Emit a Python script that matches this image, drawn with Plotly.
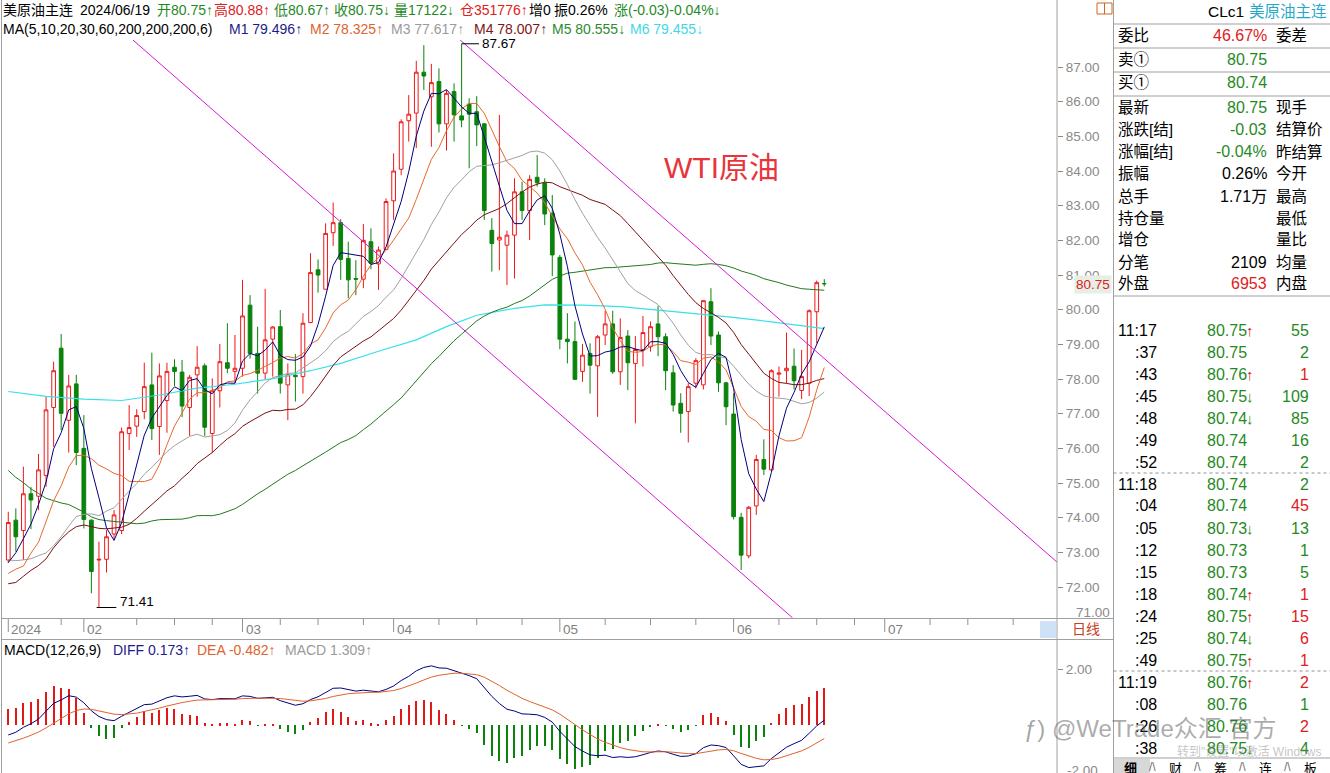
import plotly.graph_objects as go
import pandas as pd

W, H = 1330, 773
FONT = "Liberation Sans, Noto Sans CJK SC, DejaVu Sans"

# ---------------- data ----------------
# estimated closes before the visible window (indicator warm-up only)
prior_closes = [85.49, 83.74, 85.39, 83.21, 85.54, 82.31, 81.02,
                80.44, 82.46, 80.51, 80.82, 77.37, 75.33, 75.74, 77.17, 78.26, 78.26, 76.66,
                72.90, 75.89, 77.83, 77.77, 77.10, 75.54, 74.86, 76.41, 77.86, 75.96,
                74.07, 73.04, 72.32, 69.38, 69.34, 71.23, 71.32, 68.61, 69.47, 71.58, 71.43,
                72.47, 73.94, 74.22, 73.89, 73.56, 75.57, 74.11, 71.77, 71.65,
                70.38, 72.70, 72.19, 73.81, 70.77, 72.24, 71.37, 72.02, 72.68, 72.40, 72.56]

opens = [72.78, 73.93, 73.63, 74.69, 74.62, 75.22, 77.18, 78.89, 76.81, 77.86,
         76.00, 73.93, 72.78, 72.80, 73.53, 73.63, 76.43, 76.64, 77.06, 77.83,
         76.63, 77.38, 78.34, 78.20, 77.18, 78.12, 78.38, 76.43, 77.66, 78.47,
         78.22, 78.31, 80.13, 78.74, 78.17, 79.15, 79.51, 77.83, 78.11, 78.07,
         79.63, 81.15, 80.59, 82.22, 82.51, 81.48, 80.90, 80.88, 81.96, 81.32,
         81.74, 83.14, 84.05, 85.45, 85.67, 86.85, 86.14, 86.58, 85.36, 86.29,
         85.59, 85.93, 85.71, 85.36, 82.29, 82.01, 81.86, 82.15, 83.40, 82.86,
         83.82, 83.66, 82.78, 81.51, 79.15, 79.08, 78.22, 78.74, 78.38, 79.27,
         79.59, 78.21, 79.24, 78.45, 78.85, 78.93, 79.59, 79.22, 78.18, 77.30,
         77.06, 77.88, 77.83, 80.23, 79.27, 77.89, 76.99, 74.01, 72.90, 74.34,
         75.68, 75.38, 78.14, 78.24, 78.37, 77.67, 77.88, 79.94, 80.75]
highs = [74.17, 74.27, 75.47, 74.88, 75.84, 77.49, 78.50, 79.30, 78.12, 78.12,
         76.96, 73.95, 73.31, 73.64, 74.22, 76.60, 77.25, 77.13, 78.47, 78.76,
         78.45, 78.47, 78.57, 78.55, 78.12, 78.95, 78.45, 78.02, 79.01, 79.61,
         79.27, 80.86, 80.42, 79.51, 80.60, 79.53, 79.99, 78.45, 78.72, 79.90,
         81.63, 81.45, 82.49, 83.09, 82.61, 81.96, 81.43, 82.47, 82.35, 81.82,
         83.21, 84.51, 85.49, 86.19, 87.18, 87.63, 87.09, 86.96, 86.34, 86.53,
         87.67, 86.10, 86.16, 85.38, 82.64, 85.62, 82.28, 83.79, 83.69, 83.88,
         84.46, 83.79, 83.31, 81.58, 79.90, 79.66, 79.01, 79.03, 79.27, 79.97,
         79.97, 79.75, 79.41, 79.24, 79.82, 79.66, 80.11, 79.32, 78.40, 77.59,
         77.88, 78.60, 80.28, 80.62, 79.37, 77.92, 77.59, 74.14, 74.34, 75.81,
         76.26, 78.28, 78.36, 79.34, 78.88, 78.84, 80.01, 80.84, 80.88]
lows = [72.70, 73.02, 72.78, 73.67, 74.22, 74.89, 76.05, 76.53, 75.88, 75.52,
        73.69, 71.82, 71.41, 72.42, 73.38, 73.53, 75.95, 76.33, 76.84, 76.24,
        75.81, 76.45, 77.80, 76.90, 76.36, 77.49, 76.36, 75.88, 77.18, 78.17,
        77.88, 78.07, 78.59, 77.58, 77.99, 78.07, 77.58, 76.81, 77.35, 77.58,
        79.61, 80.49, 80.59, 81.84, 80.86, 80.33, 80.42, 80.62, 81.17, 80.57,
        81.72, 82.59, 83.88, 84.85, 84.66, 86.34, 84.70, 85.11, 84.59, 84.85,
        85.26, 84.08, 84.72, 82.59, 81.10, 81.14, 80.71, 80.90, 82.59, 82.01,
        83.55, 82.44, 80.97, 78.86, 78.45, 77.97, 77.92, 77.58, 76.91, 78.98,
        78.15, 77.83, 77.68, 76.72, 78.36, 78.79, 78.66, 77.68, 77.06, 76.45,
        76.17, 77.73, 77.70, 78.98, 77.63, 76.67, 73.95, 72.49, 72.83, 74.08,
        75.23, 75.36, 77.49, 77.88, 77.70, 77.42, 77.51, 79.03, 80.67]
closes = [73.86, 73.45, 74.69, 74.51, 75.38, 77.11, 78.24, 77.01, 77.80, 75.88,
          73.95, 72.45, 72.80, 73.45, 74.08, 76.48, 76.60, 76.95, 77.78, 76.57,
          78.09, 78.22, 78.22, 77.22, 78.05, 78.34, 76.61, 77.66, 78.50, 78.31,
          78.31, 79.82, 78.74, 78.17, 79.13, 79.50, 77.88, 78.12, 78.07, 79.61,
          81.07, 81.00, 82.20, 82.51, 81.45, 80.86, 80.88, 82.00, 81.34, 81.72,
          83.12, 84.00, 85.42, 85.64, 86.85, 86.74, 86.55, 85.36, 86.24, 85.62,
          85.47, 85.64, 85.33, 82.86, 81.91, 82.09, 82.15, 83.40, 82.86, 83.76,
          83.66, 82.76, 81.58, 79.15, 79.08, 77.99, 78.69, 78.40, 79.22, 79.59,
          78.21, 79.20, 78.47, 78.85, 79.34, 79.51, 79.22, 78.24, 77.25, 77.01,
          77.78, 78.53, 80.26, 79.24, 77.89, 77.20, 74.03, 72.92, 74.30, 75.68,
          75.40, 78.24, 78.17, 78.31, 77.95, 78.07, 79.97, 80.78, 80.75]

# MA200 line (bar index, value)
ma200_idx = [0, 5, 10, 15, 20, 25, 30, 35, 40, 44, 49, 54, 58, 62, 67, 71, 76, 81, 86, 91, 95, 101, 108]
ma200_val = [77.64, 77.50, 77.42, 77.38, 77.54, 77.74, 77.85, 78.01, 78.24, 78.45, 78.80, 79.13,
             79.51, 79.84, 80.04, 80.14, 80.13, 80.09, 79.99, 79.89, 79.80, 79.65, 79.455]

month_ticks = [0, 10, 31, 51, 73, 96, 116]
month_labels = ["2024", "02", "03", "04", "05", "06", "07"]
week_ticks = [7, 17, 22, 27, 36, 41, 47, 57, 62, 68, 79, 85, 91, 102, 107, 112, 122, 127, 133]
price_ticks = [72, 73, 74, 75, 76, 77, 78, 79, 80, 81, 82, 83, 84, 85, 86, 87]

# trend channel (bar index, price)
chan_upper = [(59.8, 87.78), (138.8, 72.72)]
chan_lower = [(16.5, 87.78), (103.8, 71.11)]

header1 = [("美原油主连", "#000000"), ("2024/06/19", "#000000"), ("开80.75↑", "#1f8a1f"),
           ("高80.88↑", "#e02020"), ("低80.67↑", "#1f8a1f"), ("收80.75↓", "#1f8a1f"),
           ("量17122↓", "#1f8a1f"), ("仓351776↑", "#e02020"), ("增0", "#000000"),
           ("振0.26%", "#000000"), ("涨(-0.03)-0.04%↓", "#1f8a1f")]
header1_x = [1, 78, 155, 212, 272, 332, 392, 458, 527, 552, 612]
header2 = [("MA(5,10,20,30,60,200,200,200,6)", "#000000"), ("M1 79.496↑", "#1c1c8a"),
           ("M2 78.325↑", "#e0622c"), ("M3 77.617↑", "#9a9a9a"), ("M4 78.007↑", "#7f1515"),
           ("M5 80.555↓", "#2e8b2e"), ("M6 79.455↓", "#3fd8e6")]
header2_x = [1, 227, 308, 389, 472, 550, 628]
macd_head = [("MACD(12,26,9)", "#000000"), ("DIFF 0.173↑", "#1c1c8a"),
             ("DEA -0.482↑", "#e0622c"), ("MACD 1.309↑", "#9a9a9a")]
macd_head_x = [2, 111, 195, 283]

info_labels = ["委比", "卖①", "买①", "最新", "涨跌[结]", "涨幅[结]", "振幅", "总手", "持仓量", "增仓", "分笔", "外盘"]
info_values = ["46.67%", "80.75", "80.74", "80.75", "-0.03", "-0.04%", "0.26%", "1.71万", "", "", "2109", "6953"]
info_value_colors = ["#e02020", "#1f8a1f", "#1f8a1f", "#1f8a1f", "#1f8a1f", "#1f8a1f",
                     "#000000", "#000000", "#000000", "#000000", "#000000", "#e02020"]
info_right = ["委差", "", "", "现手", "结算价", "昨结算", "今开", "最高", "最低", "量比", "均量", "内盘"]

tick_times = ["11:17", ":37", ":43", ":45", ":48", ":49", ":52", "11:18", ":04", ":05",
              ":12", ":15", ":18", ":24", ":25", ":49", "11:19", ":08", ":26", ":38"]
tick_prices = ["80.75", "80.75", "80.76", "80.75", "80.74", "80.74", "80.74", "80.74", "80.74", "80.73",
               "80.73", "80.73", "80.74", "80.75", "80.74", "80.75", "80.76", "80.76", "80.76", "80.75"]
tick_arrows = ["↑", "", "↑", "↓", "↓", "", "", "", "", "↓", "", "", "↑", "↑", "↓", "↑", "↑", "", "", "↓"]
tick_vols = [55, 2, 1, 109, 85, 16, 2, 2, 45, 13, 1, 5, 1, 15, 6, 1, 2, 1, 2, 4]
tick_vol_red = [False, False, True, False, False, False, False, False, True, False,
                False, False, True, True, True, True, True, False, True, False]
tabs = ["细", "财", "筹", "连", "板"]

# ---------------- indicators ----------------
n_prior = len(prior_closes)
s_all = pd.Series(prior_closes + closes)
idx = list(range(len(closes)))


def ma(n):
    return s_all.rolling(n, min_periods=1).mean().iloc[n_prior:].tolist()


ema12 = s_all.ewm(span=12, adjust=False).mean()
ema26 = s_all.ewm(span=26, adjust=False).mean()
diff_all = ema12 - ema26
dea_all = diff_all.ewm(span=9, adjust=False).mean()
diff = diff_all.iloc[n_prior:].tolist()
dea = dea_all.iloc[n_prior:].tolist()
macd = [2 * (a - b) for a, b in zip(diff, dea)]

# ---------------- helpers ----------------
def px(x):
    return x / W


def py(y):
    return 1 - y / H


anns = []
shapes = []


def txt(x, y, s, color="#000000", size=13, xanchor="left", **kw):
    d = dict(x=px(x), y=py(y), xref="paper", yref="paper", text=s, showarrow=False,
             xanchor=xanchor, yanchor="middle", font=dict(color=color, size=size, family=FONT))
    d.update(kw)
    anns.append(d)


def line(x0, y0, x1, y1, color="#a0a0a0", width=1, dash="solid"):
    shapes.append(dict(type="line", xref="paper", yref="paper", x0=px(x0), y0=py(y0),
                       x1=px(x1), y1=py(y1), line=dict(color=color, width=width, dash=dash)))


fig = go.Figure()

# candles
fig.add_trace(go.Candlestick(
    x=idx, open=opens, high=highs, low=lows, close=closes,
    increasing=dict(line=dict(color="#f01818", width=1), fillcolor="#ffffff"),
    decreasing=dict(line=dict(color="#0b820b", width=1), fillcolor="#0b820b"),
    whiskerwidth=0, xaxis="x", yaxis="y", hoverinfo="skip"))

ma_colors = {5: "#00007f", 10: "#e66a2c", 20: "#a0a0a0", 30: "#7a1010", 60: "#1f7a1f"}
fig.add_trace(go.Scatter(x=ma200_idx, y=ma200_val, mode="lines", line=dict(color="#38e0e8", width=1.2),
                         xaxis="x", yaxis="y", hoverinfo="skip"))
for n in [60, 30, 20, 10, 5]:
    fig.add_trace(go.Scatter(x=idx, y=ma(n), mode="lines", line=dict(color=ma_colors[n], width=1),
                             xaxis="x", yaxis="y", hoverinfo="skip"))

# MACD
fig.add_trace(go.Bar(x=idx, y=macd, width=0.16,
                     marker=dict(color=["#e01818" if v >= 0 else "#0b820b" for v in macd], line=dict(width=0)),
                     xaxis="x2", yaxis="y2", hoverinfo="skip"))
fig.add_trace(go.Scatter(x=idx, y=diff, mode="lines", line=dict(color="#00007f", width=1),
                         xaxis="x2", yaxis="y2", hoverinfo="skip"))
fig.add_trace(go.Scatter(x=idx, y=dea, mode="lines", line=dict(color="#e0622c", width=1),
                         xaxis="x2", yaxis="y2", hoverinfo="skip"))

# trend channel lines
for (a, b) in [chan_upper, chan_lower]:
    shapes.append(dict(type="line", xref="x", yref="y", x0=a[0], y0=a[1], x1=b[0], y1=b[1],
                       line=dict(color="#d61ad6", width=1)))

# high / low markers
hi_i = highs.index(max(highs))
lo_i = lows.index(min(lows))
shapes.append(dict(type="line", xref="x", yref="y", x0=hi_i, x1=hi_i + 2.3, y0=max(highs), y1=max(highs),
                   line=dict(color="#000000", width=1)))
anns.append(dict(x=hi_i + 2.4, y=max(highs), xref="x", yref="y", text=f"{max(highs):.2f}", showarrow=False,
                 xanchor="left", yanchor="middle", font=dict(color="#000000", size=13.5, family=FONT)))
shapes.append(dict(type="line", xref="x", yref="y", x0=lo_i - 0.3, x1=lo_i + 2.3, y0=min(lows), y1=min(lows),
                   line=dict(color="#000000", width=1)))
anns.append(dict(x=lo_i + 2.5, y=min(lows), xref="x", yref="y", text=f"{min(lows):.2f}", showarrow=False,
                 xanchor="left", yanchor="bottom", yshift=-3, font=dict(color="#000000", size=13.5, family=FONT)))

# WTI label
txt(721, 167, "WTI原油", color="#e8343a", size=30, xanchor="center")

# headers
for (s, c), x in zip(header1, header1_x):
    txt(x, 10, s, color=c, size=14)
for (s, c), x in zip(header2, header2_x):
    txt(x, 29, s, color=c, size=14)
for (s, c), x in zip(macd_head, macd_head_x):
    txt(x, 650, s, color=c, size=14)

# date strip
for i, lab in zip(month_ticks, month_labels):
    shapes.append(dict(type="line", xref="x", yref="paper", x0=i, x1=i, y0=py(619), y1=py(632),
                       line=dict(color="#909090", width=1)))
    anns.append(dict(x=i, y=py(629), xref="x", yref="paper", text=lab, showarrow=False, xanchor="left",
                     yanchor="middle", xshift=1, font=dict(color="#808080", size=13.5, family=FONT)))
for i in week_ticks:
    shapes.append(dict(type="line", xref="x", yref="paper", x0=i, x1=i, y0=py(619), y1=py(625),
                       line=dict(color="#909090", width=1)))
shapes.append(dict(type="rect", xref="paper", yref="paper", x0=px(1040), x1=px(1056), y0=py(638), y1=py(621),
                   fillcolor="#cfe1f6", line=dict(width=0)))

# frame lines
line(1.5, 0, 1.5, 773)
line(1057, 0, 1057, 773)
line(1113.5, 0, 1113.5, 773)
line(1.5, 618.5, 1057, 618.5)
line(1.5, 639.5, 1113.5, 639.5)
line(1057, 618.5, 1113.5, 618.5)

# axis column extras
txt(1112, 612, "71.00", color="#8a8a8a", size=13.5, xanchor="right")
txt(1112, 284, "80.75", color="#e02020", size=13.5, xanchor="right", bgcolor="#e6efe6")
txt(1070, 629, "日线", color="#c8401c", size=14)
txt(1100, 770, "-2.00", color="#8a8a8a", size=13.5, xanchor="right")
shapes.append(dict(type="rect", xref="paper", yref="paper", x0=px(1097), x1=px(1112), y0=py(14), y1=py(3),
                   line=dict(color="#d0651e", width=1)))
line(1104.5, 3, 1104.5, 14, color="#d0651e")

# info panel
txt(1206, 12, "CLc1", color="#000000", size=15.5)
txt(1247, 12, "美原油主连", color="#26a9c9", size=15.5)
for y in [24, 48, 72, 96, 296]:
    line(1113.5, y, 1330, y)
row_y = [35, 59.3, 82.7, 107.3, 129.3, 151.7, 173.3, 196.7, 218.3, 240, 262.7, 283.3]
for lab, val, col, rl, y in zip(info_labels, info_values, info_value_colors, info_right, row_y):
    txt(1116, y, lab, size=15.5)
    if val:
        txt(1269, y, val, color=col, size=16, xanchor="right")
    if rl:
        txt(1274, y, rl, size=15.5)

# tick list
for k, (t, p, a, v, red) in enumerate(zip(tick_times, tick_prices, tick_arrows, tick_vols, tick_vol_red)):
    y = 330 + 22.0 * k
    txt(1159, y, t, size=16, xanchor="right")
    txt(1205, y, p, color="#1f8a1f", size=16)
    if a:
        txt(1244, y, a, color="#e02020" if a == "↑" else "#1f8a1f", size=15)
    txt(1311, y, str(v), color="#e02020" if red else "#1f8a1f", size=16, xanchor="right")
line(1113.5, 473, 1330, 473, color="#909090", dash="dot")
line(1113.5, 671, 1330, 671, color="#909090", dash="dot")

# bottom tabs
line(1113.5, 758, 1330, 758)
shapes.append(dict(type="rect", xref="paper", yref="paper", x0=px(1114), x1=px(1150), y0=py(773), y1=py(759),
                   fillcolor="#d8d8d8", line=dict(width=0)))
for k, t in enumerate(tabs):
    txt(1130 + 45 * k, 768, "<b>" + t + "</b>" if k == 0 else t, size=13, xanchor="center")
    if k < 4:
        txt(1152 + 45 * k, 767, "/\\", color="#707070", size=12, xanchor="center")

# watermark
txt(1022, 728, "ƒ)", color="rgba(90,90,90,0.55)", size=24)
txt(1050, 728, "@WeTrade众汇 官方", color="rgba(90,90,90,0.5)", size=24)
txt(1175, 751, "转到\"设置\"以激活 Windows", color="rgba(140,140,140,0.5)", size=12)

fig.update_layout(
    width=W, height=H, margin=dict(l=0, r=0, t=0, b=0),
    paper_bgcolor="#ffffff", plot_bgcolor="#ffffff", showlegend=False,
    annotations=anns, shapes=shapes, bargap=0,
    xaxis=dict(domain=[px(2), px(1057)], range=[-0.83, 138.8], anchor="y", showticklabels=False,
               showgrid=False, zeroline=False, showline=False, ticks="", rangeslider=dict(visible=False)),
    xaxis2=dict(domain=[px(2), px(1057)], range=[-0.83, 138.8], anchor="y2", showticklabels=False,
                showgrid=False, zeroline=False, showline=False, ticks=""),
    yaxis=dict(domain=[py(618), py(40)], range=[71.107, 87.779], side="right", anchor="x",
               tickvals=price_ticks, ticktext=[f"{v:.2f}" for v in price_ticks],
               tickfont=dict(color="#8a8a8a", size=13.5, family=FONT), ticks="outside", ticklen=5,
               tickcolor="#8a8a8a", showgrid=False, zeroline=False, showline=False),
    yaxis2=dict(domain=[0, py(641)], range=[-1.714, 3.0], side="right", anchor="x2",
                tickvals=[2], ticktext=["2.00"],
                tickfont=dict(color="#8a8a8a", size=13.5, family=FONT), ticks="outside", ticklen=5,
                tickcolor="#8a8a8a", showgrid=False, zeroline=False, showline=False),
)

fig.write_html("out.html", config={"displayModeBar": False},
               post_script="document.body.style.margin='0';document.body.style.overflow='hidden';")
